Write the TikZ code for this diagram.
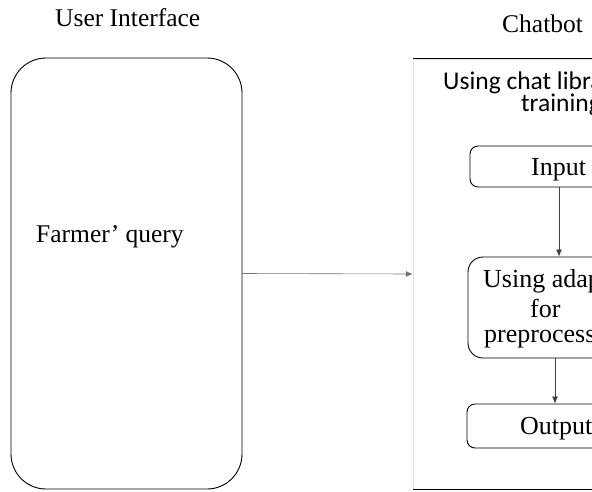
\documentclass[tikz,border=0pt]{standalone}
\usepackage{fontspec}
\setmainfont{Liberation Serif}
\newfontfamily\calibri{Carlito}
\usetikzlibrary{arrows.meta}

\begin{document}
\begin{tikzpicture}[x=1pt,y=-1pt,
	panel/.style={draw, rounded corners=35pt, line width=0.9pt},
	stepbox/.style={draw, rounded corners=#1, line width=0.9pt},
	lbl/.style={inner sep=0pt, anchor=base west, font=\rmfamily\fontsize{25.5}{28}\selectfont},
	boxlbl/.style={lbl, font=\rmfamily\fontsize{26}{29}\selectfont},
	titlelbl/.style={lbl, font=\calibri\fontsize{25.5}{29}\selectfont},
	flow/.style={-{Latex[length=7pt,width=6pt]}, line width=0.6pt, black!75}]
	%%%%% START %%%%%
	\def\xc{557}
	\def\yup{2}
	\useasboundingbox (0,0) rectangle (592,491);
	\clip (0,0) rectangle (592,491);
	
	% user side
	\node[lbl] (uititle) at (55,26) {User Interface};
	\node[panel, minimum width=231pt, minimum height=431pt] (ui) at (126.5,273.5) {};
	\node[lbl] (query) at (36,242) {Farmer’ query};
	
	% chatbot side
	\node[lbl] (bottitle) at (502,32) {Chatbot};
	\node[draw=black!12, minimum width=287pt, minimum height=430pt] (chat) at (556.5,274) {};
	\draw[line width=1.2pt] (chat.north west) -- (chat.north east);
	\draw[line width=1.2pt] (chat.south west) -- (chat.south east);
	\node[titlelbl] (lib1) at (443,89) {Using chat libra};
	\node[titlelbl] (lib2) at (521,111) {training};
	
	\node[stepbox=8pt, minimum width=174pt, minimum height=41pt] (input) at (\xc,166.5) {};
	\node[boxlbl] (intext) at (531,175) {Input};
	
	\node[stepbox=15pt, minimum width=178pt, minimum height=101pt] (prep) at (\xc,307.5) {};
	\node[boxlbl] (prep1) at (483,287) {Using adap};
	\node[boxlbl] (prep2) at (530,317) {for};
	\node[boxlbl] (prep3) at (484,342) {preprocessi};
	
	\node[stepbox=8pt, minimum width=180pt, minimum height=44pt] (output) at (\xc,426) {};
	\node[boxlbl] (outtext) at (520,434) {Output};
	
	% connectors
	\draw[flow] ([xshift=\yup pt]input.south) -- ([xshift=\yup pt]prep.north);
	\draw[flow] ([xshift=-\yup pt]prep.south) -- ([xshift=-\yup pt]output.north);
	\draw[flow, black!55] (ui.east) -- (chat.west);
	%%%%% END %%%%%
\end{tikzpicture}
\end{document}
